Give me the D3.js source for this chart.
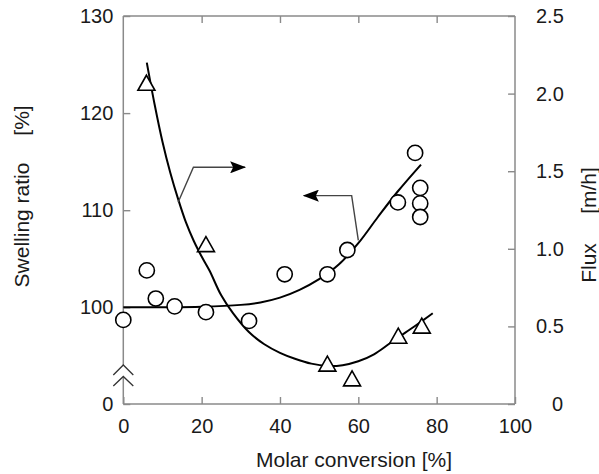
<!DOCTYPE html>
<html>
<head>
<meta charset="utf-8">
<script src="https://d3js.org/d3.v7.min.js"></script>
<style>
  body { margin: 0; background: #fff; }
  text { font-family: "Liberation Sans", Arial, Helvetica, sans-serif; fill: #1a1a1a; }
</style>
</head>
<body>
<script>
// swelling ratio points (circles, left axis)
var swellX = [0, 6, 8.3, 13.1, 21.1, 32.1, 41.2, 52.1, 57.2, 70.1, 74.5, 75.8, 75.8, 75.8];
var swellY = [98.7, 103.8, 100.9, 100.1, 99.5, 98.6, 103.4, 103.4, 105.9, 110.8, 115.9, 112.3, 110.7, 109.3];

// flux points (triangles, right axis)
var fluxX = [5.9, 21.1, 52.1, 58.4, 70.2, 76.2];
var fluxY = [2.07, 1.03, 0.26, 0.165, 0.44, 0.505];

// fitted curves
var swellCurveX = [0, 10, 20, 30, 35, 40, 45, 50, 55, 60, 65, 70, 76];
var swellCurveY = [100, 100, 100.05, 100.25, 100.5, 101, 101.8, 102.9, 104.4, 106.6, 109.3, 111.9, 114.7];
var fluxCurveX = [6, 8, 10, 12, 14, 16, 18, 20, 22, 25, 28, 32, 36, 40, 44, 48, 52, 56, 60, 64, 68, 72, 76, 79];
var fluxCurveY = [2.2, 1.93, 1.69, 1.49, 1.32, 1.17, 1.05, 0.95, 0.86, 0.70, 0.585, 0.465, 0.385, 0.33, 0.29, 0.26, 0.245, 0.25, 0.275, 0.32, 0.39, 0.46, 0.53, 0.585];

// tick labels
var xTicks = [0, 20, 40, 60, 80, 100];
var leftTicks = [0, 100, 110, 120, 130];
var rightTicks = [0, 0.5, 1.0, 1.5, 2.0, 2.5];

// arrow annotations (data units)
var arrowFluxX = [14.0, 17.9, 31.1];
var arrowFluxY = [1.30, 1.525, 1.525];
var arrowSwellX = [60.0, 58.3, 46.1];
var arrowSwellY = [106.9, 111.5, 111.5];

var w = 599, h = 474;
var plotLeft = 123.3, plotRight = 515, plotTop = 16, plotBottom = 404;

var svg = d3.select("body").append("svg")
  .attr("width", w)
  .attr("height", h);

// scales
var x = d3.scaleLinear().domain([0, 100]).range([plotLeft, plotRight]);
// broken left axis: 0 .. 95 squeezed below the break, 95 .. 130 linear
var yL = d3.scaleLinear().domain([0, 95, 100, 130]).range([plotBottom, 355.85, 307.3, plotTop]);
var yR = d3.scaleLinear().domain([0, 2.5]).range([plotBottom, plotTop]);

var axisColor = "#8a8a8a";

function styleAxis(g, size) {
  g.select(".domain").remove();
  g.selectAll(".tick line").attr("stroke", axisColor).attr("stroke-width", 1.4);
  g.selectAll("text")
    .attr("font-family", "Liberation Sans, Arial, sans-serif")
    .attr("font-size", size)
    .attr("fill", "#1a1a1a");
}

// bottom axis
svg.append("g")
  .attr("transform", "translate(0," + plotBottom + ")")
  .call(d3.axisBottom(x).tickValues(xTicks).tickSizeInner(-7).tickSizeOuter(0).tickPadding(15).tickFormat(d3.format("d")))
  .call(styleAxis, 20);

// top axis, ticks only
svg.append("g")
  .attr("transform", "translate(0," + plotTop + ")")
  .call(d3.axisTop(x).tickValues([20, 40, 60, 80]).tickSizeInner(-7).tickSizeOuter(0).tickFormat(""))
  .call(styleAxis, 20);

// left axis
svg.append("g")
  .attr("transform", "translate(" + plotLeft + ",0)")
  .call(d3.axisLeft(yL).tickValues(leftTicks).tickSizeInner(-7).tickSizeOuter(0).tickPadding(10).tickFormat(d3.format("d")))
  .call(styleAxis, 20);

// right axis
var rAxis = svg.append("g")
  .attr("transform", "translate(" + plotRight + ",0)")
  .call(d3.axisRight(yR).tickValues(rightTicks).tickSizeInner(-7).tickSizeOuter(0).tickPadding(21)
    .tickFormat(function(d) { return d == 0 ? "0" : d3.format(".1f")(d); }))
  .call(styleAxis, 20);
rAxis.selectAll(".tick").filter(function(d) { return d == 0; }).select("text").attr("x", 37);

// frame lines
var frame = svg.append("g").attr("stroke", axisColor).attr("stroke-width", 1.5).attr("fill", "none");
frame.append("line").attr("x1", plotLeft).attr("x2", plotRight).attr("y1", plotTop).attr("y2", plotTop);
frame.append("line").attr("x1", plotLeft).attr("x2", plotRight).attr("y1", plotBottom).attr("y2", plotBottom);
frame.append("line").attr("x1", plotRight).attr("x2", plotRight).attr("y1", plotTop).attr("y2", plotBottom);
frame.append("line").attr("x1", plotLeft).attr("x2", plotLeft).attr("y1", plotTop).attr("y2", 365);
frame.append("line").attr("x1", plotLeft).attr("x2", plotLeft).attr("y1", 377).attr("y2", plotBottom);
// axis break chevrons
frame.append("path").attr("stroke", "#333").attr("stroke-width", 1.3)
  .attr("d", "M" + (plotLeft - 10) + ",375L" + plotLeft + ",365L" + (plotLeft + 10) + ",375"
    + "M" + (plotLeft - 10) + ",386L" + plotLeft + ",376.5L" + (plotLeft + 10) + ",386");

// fitted curves
var swellLine = d3.line()
  .x(function(d) { return x(d[0]); })
  .y(function(d) { return yL(d[1]); })
  .curve(d3.curveCatmullRom.alpha(0.5));
var fluxLine = d3.line()
  .x(function(d) { return x(d[0]); })
  .y(function(d) { return yR(d[1]); })
  .curve(d3.curveCatmullRom.alpha(0.5));

svg.append("path")
  .datum(d3.zip(swellCurveX, swellCurveY))
  .attr("d", swellLine)
  .attr("fill", "none").attr("stroke", "#000").attr("stroke-width", 2);
svg.append("path")
  .datum(d3.zip(fluxCurveX, fluxCurveY))
  .attr("d", fluxLine)
  .attr("fill", "none").attr("stroke", "#000").attr("stroke-width", 2);

// arrows
svg.append("defs").append("marker")
  .attr("id", "head")
  .attr("viewBox", "0 0 16 12")
  .attr("refX", 15).attr("refY", 6)
  .attr("markerWidth", 16).attr("markerHeight", 12)
  .attr("markerUnits", "userSpaceOnUse")
  .attr("orient", "auto")
  .append("path").attr("d", "M0,0L16,6L0,12L3,6Z").attr("fill", "#000");

var plainLine = d3.line();
svg.append("path")
  .attr("d", plainLine(d3.zip(arrowFluxX, arrowFluxY).map(function(d) { return [x(d[0]), yR(d[1])]; })))
  .attr("fill", "none").attr("stroke", "#444").attr("stroke-width", 1.4)
  .attr("marker-end", "url(#head)");
svg.append("path")
  .attr("d", plainLine(d3.zip(arrowSwellX, arrowSwellY).map(function(d) { return [x(d[0]), yL(d[1])]; })))
  .attr("fill", "none").attr("stroke", "#444").attr("stroke-width", 1.4)
  .attr("marker-end", "url(#head)");

// circles
svg.append("g").selectAll("circle")
  .data(d3.zip(swellX, swellY))
  .enter().append("circle")
  .attr("cx", function(d) { return x(d[0]); })
  .attr("cy", function(d) { return yL(d[1]); })
  .attr("r", 7.6)
  .attr("fill", "#fff").attr("stroke", "#000").attr("stroke-width", 1.6);

// triangles
svg.append("g").selectAll("path")
  .data(d3.zip(fluxX, fluxY))
  .enter().append("path")
  .attr("transform", function(d) { return "translate(" + x(d[0]) + "," + yR(d[1]) + ")"; })
  .attr("d", "M0,-7.5L8.5,7.5L-8.5,7.5Z")
  .attr("fill", "#fff").attr("stroke", "#000").attr("stroke-width", 1.6)
  .attr("stroke-linejoin", "miter");

// axis titles
svg.append("text")
  .attr("x", 354).attr("y", 467)
  .attr("text-anchor", "middle")
  .attr("font-size", 21)
  .text("Molar conversion [%]");

svg.append("text")
  .attr("transform", "translate(29,225) rotate(-90)")
  .attr("text-anchor", "middle")
  .attr("font-size", 21)
  .text("Swelling ratio");
svg.append("text")
  .attr("transform", "translate(29,120.5) rotate(-90)")
  .attr("text-anchor", "middle")
  .attr("font-size", 21)
  .text("[%]");

svg.append("text")
  .attr("transform", "translate(596,263) rotate(-90)")
  .attr("text-anchor", "middle")
  .attr("font-size", 21)
  .text("Flux");
svg.append("text")
  .attr("transform", "translate(596,190.5) rotate(-90)")
  .attr("text-anchor", "middle")
  .attr("font-size", 21)
  .text("[m/h]");
</script>
</body>
</html>
